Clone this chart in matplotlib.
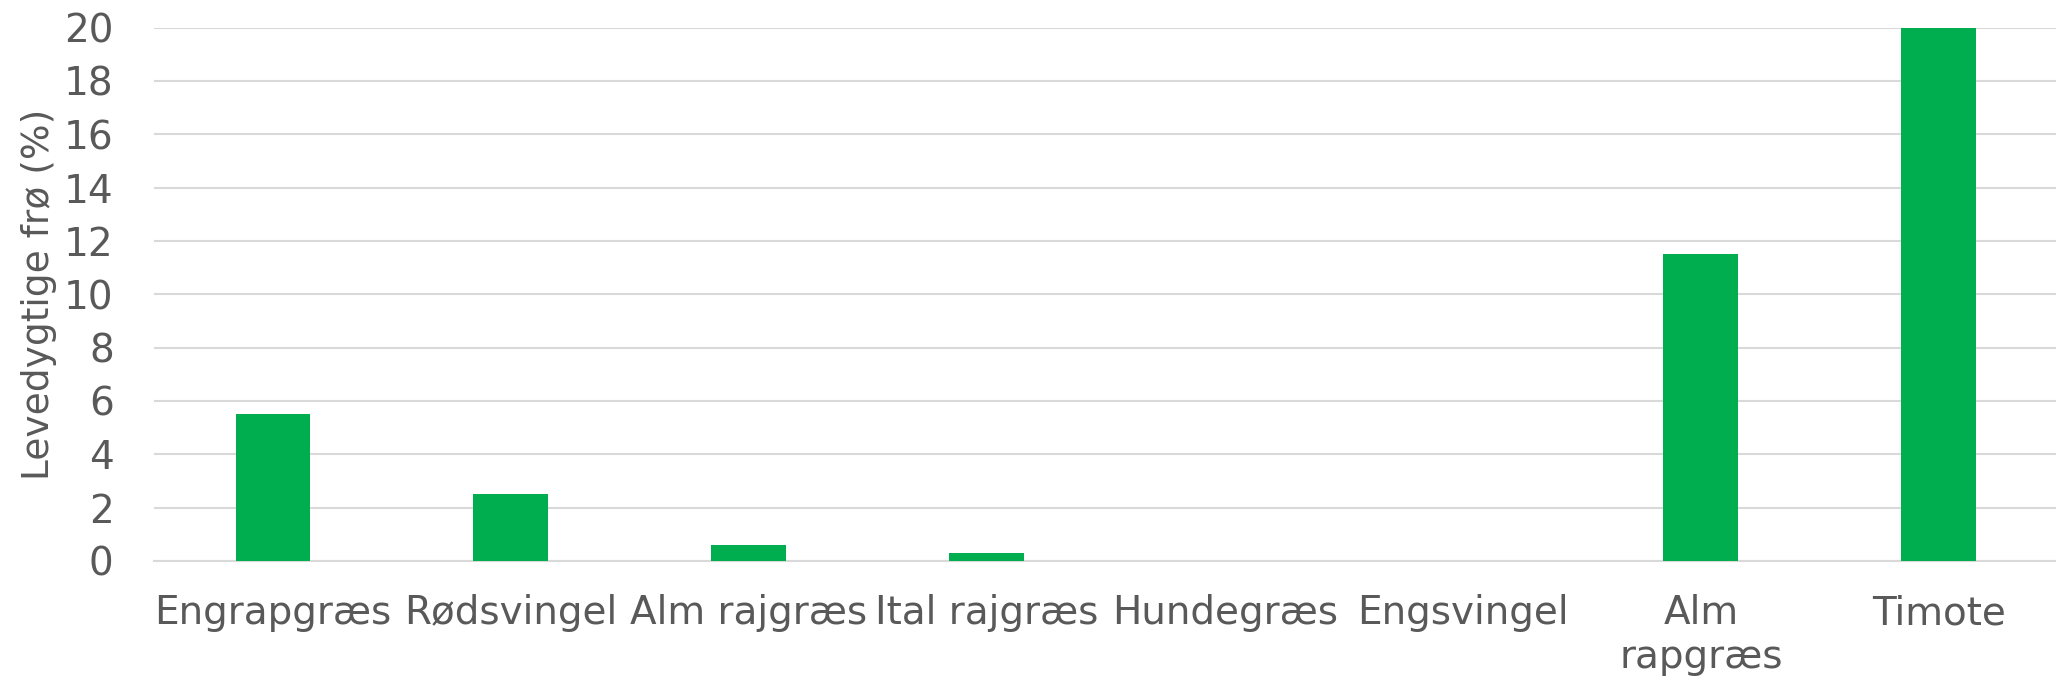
import matplotlib
matplotlib.use("Agg")
import matplotlib.pyplot as plt

categories = ["Engrapgræs", "Rødsvingel", "Alm rajgræs", "Ital rajgræs",
              "Hundegræs", "Engsvingel", "Alm\nrapgræs", "Timote"]
values = [5.5, 2.5, 0.6, 0.3, 0, 0, 11.5, 20]
yticks = list(range(0, 21, 2))

plt.rcParams['font.family'] = ['DejaVu Sans']
text_color = '#595959'

fig = plt.figure(figsize=(20.56, 6.89), dpi=100)
ax = fig.add_axes([0.0749, 0.1858, 0.9260, 0.7742])

x = list(range(len(categories)))
ax.bar(x, values, width=0.315, color='#00ad4f', zorder=3)
ax.set_xlim(-0.5, len(categories) - 0.5)
ax.set_ylim(0, 20)
ax.set_yticks(yticks)
ax.set_yticklabels([str(t) for t in yticks])
ax.set_xticks(x)
ax.set_xticklabels(categories, linespacing=1.2)
ax.yaxis.grid(True, color='#d9d9d9', linewidth=1.5, zorder=0)
ax.set_axisbelow(True)
for s in ['top', 'right', 'left']:
    ax.spines[s].set_visible(False)
ax.spines['bottom'].set_color('#d9d9d9')
ax.spines['bottom'].set_linewidth(1.5)
ax.tick_params(axis='both', length=0, labelsize=28, labelcolor=text_color)
ax.tick_params(axis='y', pad=29)
ax.tick_params(axis='x', pad=24)
ax.set_ylabel("Levedygtige frø (%)", fontsize=27, color=text_color, labelpad=5)

fig.savefig("out.png", dpi=100)
